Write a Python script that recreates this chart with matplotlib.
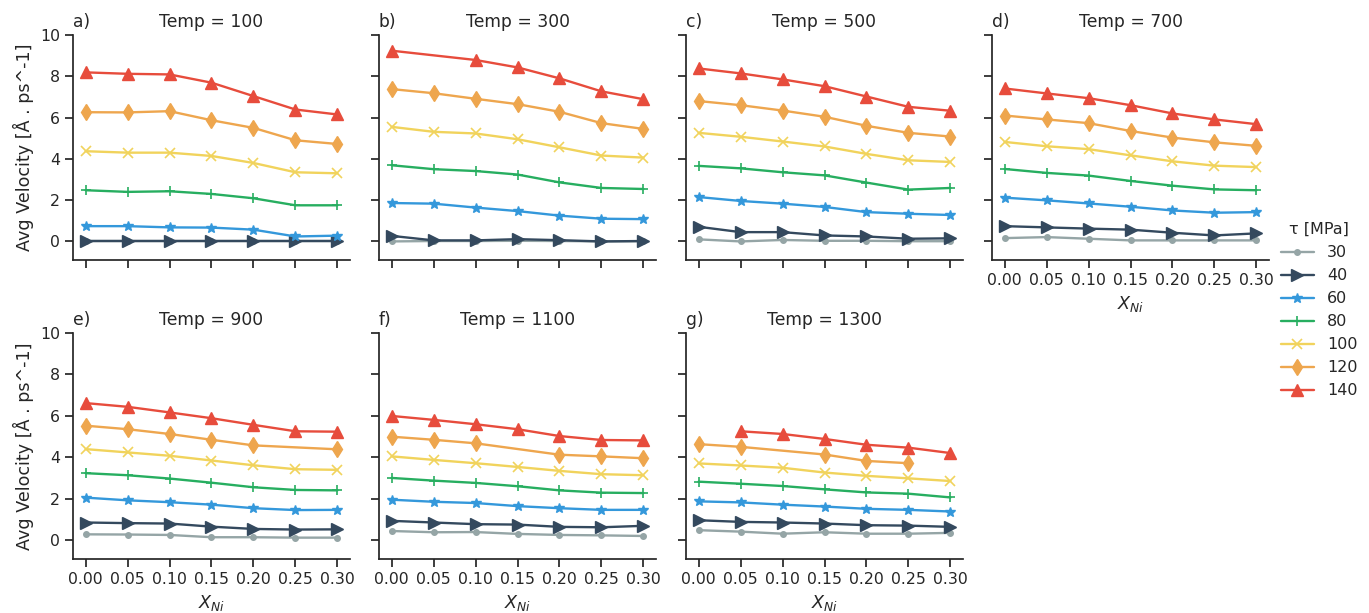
import numpy as np
import matplotlib
matplotlib.use("Agg")
import matplotlib.pyplot as plt
import seaborn as sns

sns.set_theme(style="ticks", context="notebook")
plt.rcParams['font.family'] = ['DejaVu Sans']

x_ni = [0.00, 0.05, 0.10, 0.15, 0.20, 0.25, 0.30]
temps = [100, 300, 500, 700, 900, 1100, 1300]
panel_letters = ["a)", "b)", "c)", "d)", "e)", "f)", "g)"]
taus = [30, 40, 60, 80, 100, 120, 140]
nan = np.nan

# values per temperature: rows = tau (30..140), cols = X_Ni
v100 = [
    [0.00, 0.00, 0.00, 0.00, 0.00, 0.00, 0.00],
    [0.00, 0.00, 0.00, 0.00, 0.00, 0.00, 0.00],
    [0.74, 0.74, 0.68, 0.67, 0.57, 0.24, 0.28],
    [2.48, 2.40, 2.43, 2.30, 2.09, 1.75, 1.75],
    [4.37, 4.30, 4.30, 4.14, 3.80, 3.35, 3.30],
    [6.26, 6.25, 6.31, 5.87, 5.50, 4.90, 4.72],
    [8.19, 8.12, 8.09, 7.69, 7.04, 6.39, 6.15],
]
v300 = [
    [0.00, 0.02, 0.02, 0.03, 0.02, 0.00, 0.01],
    [0.27, 0.05, 0.05, 0.11, 0.06, 0.00, 0.02],
    [1.86, 1.83, 1.64, 1.47, 1.25, 1.10, 1.08],
    [3.69, 3.50, 3.41, 3.24, 2.86, 2.59, 2.54],
    [5.55, 5.31, 5.23, 4.95, 4.56, 4.16, 4.06],
    [7.38, 7.18, 6.91, 6.65, 6.28, 5.73, 5.45],
    [9.24, nan, 8.79, 8.43, 7.90, 7.27, 6.89],
]
v500 = [
    [0.10, 0.00, 0.07, 0.03, 0.03, 0.01, 0.01],
    [0.71, 0.45, 0.45, 0.29, 0.24, 0.13, 0.15],
    [2.15, 1.96, 1.83, 1.67, 1.42, 1.34, 1.28],
    [3.66, 3.54, 3.35, 3.20, 2.85, 2.51, 2.59],
    [5.26, 5.07, 4.84, 4.60, 4.24, 3.93, 3.85],
    [6.80, 6.60, 6.34, 6.04, 5.60, 5.26, 5.08],
    [8.38, 8.14, 7.85, 7.52, 7.02, 6.52, 6.33],
]
v700 = [
    [0.16, 0.21, 0.13, 0.05, 0.05, 0.05, 0.05],
    [0.74, 0.68, 0.62, 0.57, 0.42, 0.29, 0.39],
    [2.12, 1.99, 1.84, 1.68, 1.50, 1.39, 1.42],
    [3.51, 3.32, 3.19, 2.93, 2.70, 2.52, 2.48],
    [4.82, 4.61, 4.47, 4.17, 3.88, 3.67, 3.60],
    [6.10, 5.91, 5.73, 5.35, 5.03, 4.80, 4.63],
    [7.41, 7.17, 6.94, 6.60, 6.20, 5.91, 5.68],
]
v900 = [
    [0.29, 0.28, 0.26, 0.15, 0.15, 0.13, 0.13],
    [0.86, 0.83, 0.81, 0.66, 0.55, 0.52, 0.53],
    [2.06, 1.93, 1.84, 1.72, 1.55, 1.46, 1.47],
    [3.24, 3.14, 2.98, 2.78, 2.56, 2.43, 2.41],
    [4.40, 4.24, 4.08, 3.85, 3.62, 3.43, 3.40],
    [5.53, 5.36, 5.13, 4.85, 4.58, nan, 4.39],
    [6.62, 6.44, 6.17, 5.89, 5.57, 5.26, 5.24],
]
v1100 = [
    [0.45, 0.39, 0.40, 0.31, 0.26, 0.24, 0.21],
    [0.94, 0.86, 0.78, 0.76, 0.65, 0.63, 0.70],
    [1.96, 1.86, 1.80, 1.65, 1.55, 1.47, 1.47],
    [3.01, 2.88, 2.77, 2.61, 2.41, 2.30, 2.28],
    [4.05, 3.88, 3.72, 3.54, 3.35, 3.19, 3.14],
    [5.00, 4.85, 4.68, nan, 4.13, 4.05, 3.96],
    [6.00, 5.81, 5.60, 5.36, 5.03, 4.84, 4.82],
]
v1300 = [
    [0.49, 0.42, 0.32, 0.39, 0.32, 0.32, 0.36],
    [0.97, 0.89, 0.86, 0.81, 0.73, 0.71, 0.65],
    [1.88, 1.83, 1.72, 1.63, 1.52, 1.47, 1.39],
    [2.83, 2.73, 2.62, 2.46, 2.31, 2.25, 2.07],
    [3.71, 3.61, 3.50, 3.27, 3.11, 2.99, 2.86],
    [4.64, 4.51, nan, 4.14, 3.83, 3.72, nan],
    [nan, 5.26, 5.13, 4.89, 4.61, 4.47, 4.21],
]
all_values = [v100, v300, v500, v700, v900, v1100, v1300]

colors = ["#95a5a6", "#34495e", "#3498db", "#27ae60", "#f1d35c", "#eea64e", "#e74c3c"]
markers = ["o", ">", "*", "+", "x", "d", "^"]
msizes = [4, 8, 7, 7, 7, 8, 8]

fig = plt.figure(figsize=(13.69, 6.13), dpi=100)
W, H = 1369.0, 613.0
col_left = [73, 379, 686, 992]
ax_w = 277
rows = [(35, 260), (333, 559)]

axes = []
for i, T in enumerate(temps):
    r, c = divmod(i, 4)
    top, bot = rows[r]
    ax = fig.add_axes([col_left[c] / W, 1 - bot / H, ax_w / W, (bot - top) / H])
    axes.append(ax)
    vals = all_values[i]
    for k, tau in enumerate(taus):
        y = np.array(vals[k], dtype=float)
        xs = np.array(x_ni)
        m = ~np.isnan(y)
        ax.plot(xs[m], y[m], color=colors[k], marker=markers[k], markersize=msizes[k],
                lw=1.7, label=str(tau), markeredgewidth=1.2 if markers[k] in "+x" else 1.0)
    ax.set_ylim(-0.9, 10)
    ax.set_xlim(-0.015, 0.315)
    ax.set_yticks([0, 2, 4, 6, 8, 10])
    ax.set_xticks(x_ni)
    ax.set_xticklabels([f"{v:.2f}" for v in x_ni])
    ax.tick_params(labelsize=11.3)
    ax.set_title(f"Temp = {T}", fontsize=12.3)
    ax.set_title(panel_letters[i], loc="left", fontsize=12.3)
    sns.despine(ax=ax)
    if c != 0:
        ax.tick_params(axis="y", labelleft=False)
    else:
        ax.set_ylabel("Avg Velocity [Å . ps^-1]", fontsize=12.6)
    if i in (3, 4, 5, 6):
        ax.set_xlabel("$X_{Ni}$", fontsize=12.6)
    else:
        ax.tick_params(axis="x", labelbottom=False)

handles, labels = axes[0].get_legend_handles_labels()
leg = fig.legend(handles, labels, title="τ [MPa]", loc="center left",
                 bbox_to_anchor=(0.925, 0.494), frameon=False, fontsize=11.5,
                 title_fontsize=11.5, handlelength=2.1)

fig.savefig("out.png", dpi=100)
